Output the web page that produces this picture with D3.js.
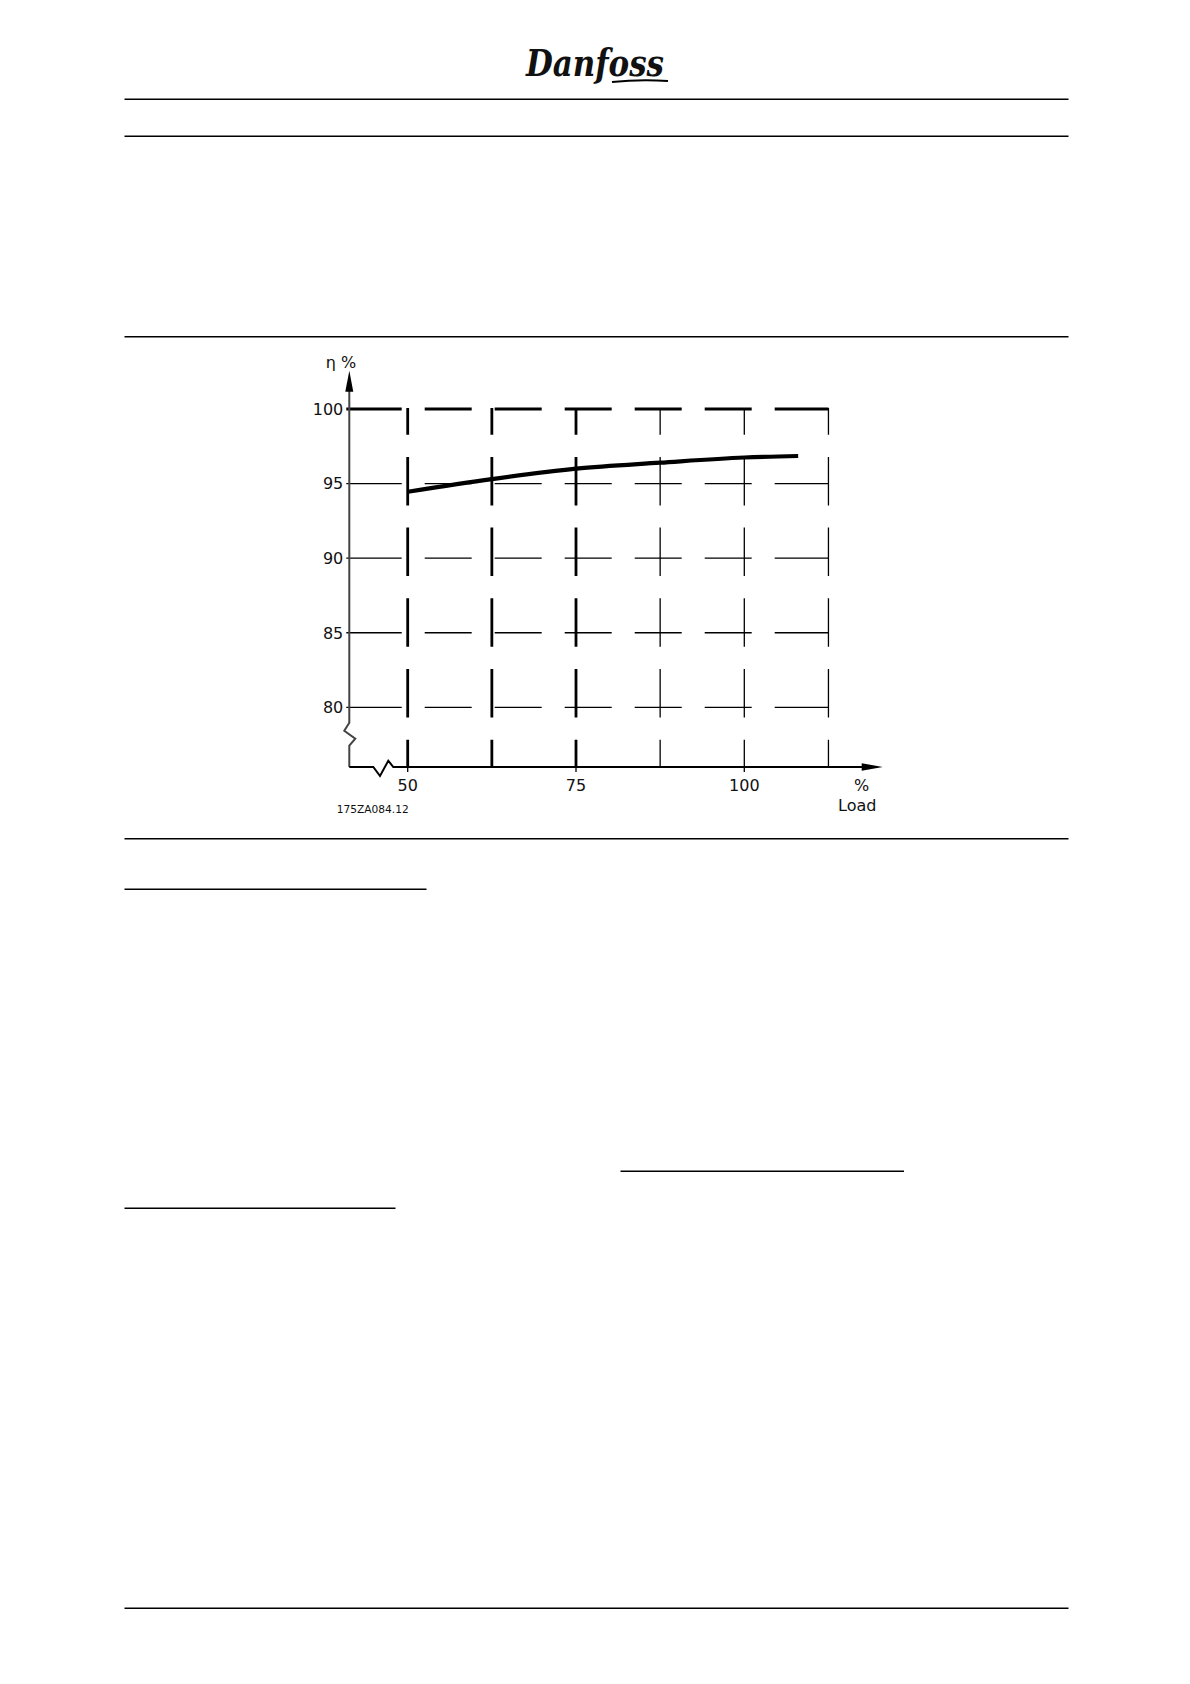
<!DOCTYPE html>
<html>
<head>
<meta charset="utf-8">
<script src="https://cdn.jsdelivr.net/npm/d3@7"></script>
<style>
  html, body { margin: 0; padding: 0; background: #fff; }
  svg { display: block; }
  text { font-family: "DejaVu Sans", "Liberation Sans", sans-serif; fill: #111; }
</style>
</head>
<body>
<script>
// ---- data ----
const loadPct = [50, 62.5, 75, 87.5, 100, 108];
const efficiency = [94.45, 95.3, 96.0, 96.4, 96.75, 96.85];
const yTicks = [80, 85, 90, 95, 100];
const xTickLabels = [50, 75, 100];
const xGrid = [50, 62.5, 75, 87.5, 100, 112.5];
const yLabel = "η %";
const xUnit = "%";
const xLabel = "Load";
const drawingCode = "175ZA084.12";
const brand = "Danfoss";

// ---- layout ----
const W = 1190, H = 1684;
const svg = d3.select("body").append("svg").attr("width", W).attr("height", H);
svg.append("rect").attr("width", W).attr("height", H).attr("fill", "#fff");

// page rules
const rules = [
  {x1: 124.5, x2: 1068.5, y: 99.3},
  {x1: 124.5, x2: 1068.5, y: 136.2},
  {x1: 124.5, x2: 1068.5, y: 336.8},
  {x1: 124.5, x2: 1068.5, y: 838.8},
  {x1: 124.5, x2: 426.5, y: 889.3},
  {x1: 620.5, x2: 904, y: 1171.3},
  {x1: 124.5, x2: 395.5, y: 1208.3},
  {x1: 124.5, x2: 1068.5, y: 1608.3}
];
svg.selectAll("line.rule").data(rules).join("line")
  .attr("class", "rule")
  .attr("x1", d => d.x1).attr("x2", d => d.x2)
  .attr("y1", d => d.y).attr("y2", d => d.y)
  .attr("stroke", "#000").attr("stroke-width", 1.5);

// logo
svg.append("text").attr("x", 595).attr("y", 76)
  .attr("text-anchor", "middle")
  .style("font-family", "'DejaVu Serif', 'Liberation Serif', serif")
  .style("font-style", "italic").style("font-weight", "bold")
  .style("font-size", "38px")
  .attr("textLength", 138).attr("lengthAdjust", "spacingAndGlyphs")
  .text(brand);
svg.append("path")
  .attr("d", "M612,82 Q640,79 668,81")
  .attr("fill", "none").attr("stroke", "#000").attr("stroke-width", 2);

// scales
const x = d3.scaleLinear().domain([50, 100]).range([407.7, 744.3]);
const y = d3.scaleLinear().domain([76, 100]).range([767, 409]);
const axisX = 349.3;           // position of y axis
const axisY = y(76);           // position of x axis
const xEnd = x(112.5);

// horizontal grid (dashed)
const hDash = (d) => {
  const first = x(50) - 6 - (axisX - 3);
  return `${first} 23 47 23 47 23 47 23 47 23 47 23 60`;
};
svg.selectAll("line.hgrid").data(yTicks).join("line")
  .attr("class", "hgrid")
  .attr("x1", axisX - 3).attr("x2", xEnd)
  .attr("y1", d => y(d)).attr("y2", d => y(d))
  .attr("stroke", "#000")
  .attr("stroke-width", d => d === 100 ? 3 : 1.3)
  .attr("stroke-dasharray", hDash);

// vertical grid (dashed)
const vDash = () => {
  let arr = [26.7];
  for (let i = 0; i < 5; i++) arr.push(22.2, 48.5);
  arr.push(40);
  return arr.join(" ");
};
svg.selectAll("line.vgrid").data(xGrid).join("line")
  .attr("class", "vgrid")
  .attr("x1", d => x(d)).attr("x2", d => x(d))
  .attr("y1", y(100) - 1).attr("y2", axisY)
  .attr("stroke", "#000")
  .attr("stroke-width", d => d <= 75 ? 2.8 : 1.3)
  .attr("stroke-dasharray", vDash);

// x ticks
svg.selectAll("line.xtick").data(xTickLabels).join("line")
  .attr("class", "xtick")
  .attr("x1", d => x(d)).attr("x2", d => x(d))
  .attr("y1", axisY).attr("y2", axisY + 5)
  .attr("stroke", "#000").attr("stroke-width", 1.3);

// y axis with break
const yBreakTop = 722.7;
svg.append("path")
  .attr("d", `M${axisX},390 L${axisX},${yBreakTop} L${axisX - 5},${yBreakTop + 8} L${axisX + 6},${yBreakTop + 16} L${axisX},${yBreakTop + 23} L${axisX},${axisY}`)
  .attr("fill", "none").attr("stroke", "#444").attr("stroke-width", 2)
  .attr("stroke-linejoin", "miter");
svg.append("path")
  .attr("d", `M${axisX},370.7 L${axisX - 4},391.7 L${axisX + 4},391.7 Z`)
  .attr("fill", "#000");

// x axis with break
svg.append("path")
  .attr("d", `M${axisX},${axisY} L373.3,${axisY} L380,${axisY + 9} L388.3,${axisY - 6.3} L393.3,${axisY} L862,${axisY}`)
  .attr("fill", "none").attr("stroke", "#000").attr("stroke-width", 2)
  .attr("stroke-linejoin", "miter");
svg.append("path")
  .attr("d", `M882.7,${axisY} L861.7,${axisY - 3.8} L861.7,${axisY + 3.8} Z`)
  .attr("fill", "#000");

// y tick labels
svg.selectAll("text.ylab").data(yTicks).join("text")
  .attr("class", "ylab")
  .attr("x", axisX - 6).attr("y", d => y(d) + 5.8)
  .attr("text-anchor", "end")
  .style("font-size", "16px")
  .text(d => d);

// x tick labels
svg.selectAll("text.xlab").data(xTickLabels).join("text")
  .attr("class", "xlab")
  .attr("x", d => x(d)).attr("y", axisY + 24)
  .attr("text-anchor", "middle")
  .style("font-size", "16px")
  .text(d => d);

// axis titles
svg.append("text").attr("x", 341).attr("y", 368)
  .attr("text-anchor", "middle").style("font-size", "16px").text(yLabel);
svg.append("text").attr("x", 861.7).attr("y", axisY + 24)
  .attr("text-anchor", "middle").style("font-size", "16px").text(xUnit);
svg.append("text").attr("x", 857.3).attr("y", axisY + 43.5)
  .attr("text-anchor", "middle").style("font-size", "16px").text(xLabel);

// drawing code
svg.append("text").attr("x", 336.7).attr("y", 812.5)
  .style("font-size", "11px").attr("textLength", 72).attr("lengthAdjust", "spacingAndGlyphs")
  .text(drawingCode);

// efficiency curve
const pts = loadPct.map((l, i) => [l, efficiency[i]]);
const line = d3.line().x(d => x(d[0])).y(d => y(d[1])).curve(d3.curveMonotoneX);
svg.append("path").datum(pts)
  .attr("d", line)
  .attr("fill", "none").attr("stroke", "#000").attr("stroke-width", 4.2)
  .attr("stroke-linecap", "butt");
</script>
</body>
</html>
